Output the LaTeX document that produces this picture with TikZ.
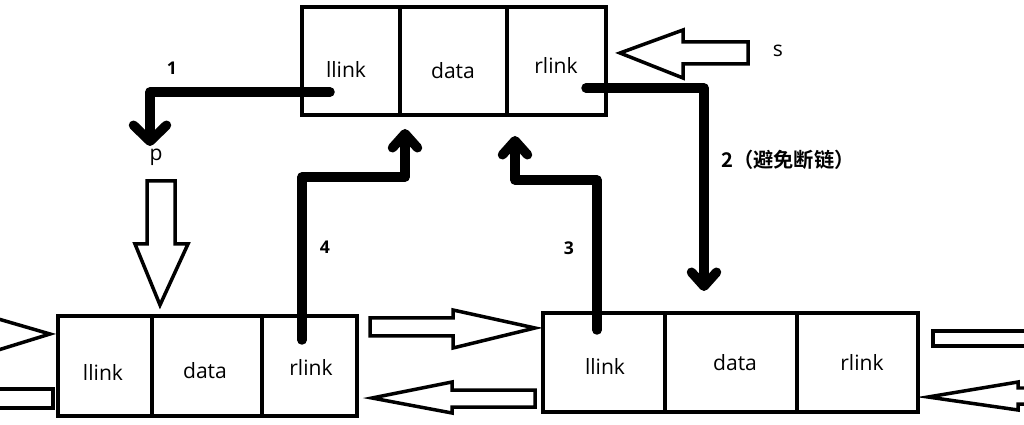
\documentclass[tikz,border=0pt]{standalone}
\usepackage{fontspec}
\setmainfont{Open Sans}
\newfontfamily\cjk{Noto Sans CJK SC}[BoldFont={Noto Sans CJK SC Bold}]
\usetikzlibrary{arrows.meta}
\begin{document}
\begin{tikzpicture}[x=0.02cm,y=-0.02cm,
  cell/.style={draw,line width=0.08cm,inner sep=0,outer sep=0},
  lbl/.style={font=\fontsize{12}{14}\selectfont,inner sep=0},
  num/.style={font=\fontsize{10}{12}\selectfont\bfseries,inner sep=0},
  link/.style={line width=0.19cm,line cap=round,line join=round,
    -{Straight Barb[length=0.28cm,width=0.5cm,line cap=round,line join=round]}},
  linkwide/.style={link,-{Straight Barb[length=0.32cm,width=0.66cm,line cap=round,line join=round]}},
  hollow/.style={draw,line width=0.07cm,line join=miter}]
\useasboundingbox (0,0) rectangle (1024,425);
\clip (0,0) rectangle (1024,425);

% top node
\node[cell,minimum width=1.96cm,minimum height=2.16cm] (tl) at (351,61) {};
\node[cell,minimum width=2.14cm,minimum height=2.16cm] (td) at (453.5,61) {};
\node[cell,minimum width=1.98cm,minimum height=2.16cm] (tr) at (556.5,61) {};
\node[lbl] (tlt) at (346,69) {llink};
\node[lbl] (tdt) at (453,71) {data};
\node[lbl] (trt) at (556,65) {rlink};

% bottom-left node
\node[cell,minimum width=1.88cm,minimum height=2cm] (bl1) at (105,366) {};
\node[cell,minimum width=2.2cm,minimum height=2cm] (bl2) at (207,366) {};
\node[cell,minimum width=1.9cm,minimum height=2cm] (bl3) at (309.5,366) {};
\node[lbl] (bl1t) at (103,372) {llink};
\node[lbl] (bl2t) at (205,371) {data};
\node[lbl] (bl3t) at (311,367) {rlink};

% bottom-right node
\node[cell,minimum width=2.44cm,minimum height=1.98cm] (br1) at (604,362.5) {};
\node[cell,minimum width=2.64cm,minimum height=1.98cm] (br2) at (731,362.5) {};
\node[cell,minimum width=2.42cm,minimum height=1.98cm] (br3) at (857.5,362.5) {};
\node[lbl] (br1t) at (605,366) {llink};
\node[lbl] (br2t) at (735,363) {data};
\node[lbl] (br3t) at (862,362) {rlink};

% texts
\node[lbl] (s) at (778,51) {s};
\node[lbl] (p) at (156,157) {p};
\node[num] (n1) at (172,68) {1};
\node[num] (n4) at (325,247) {4};
\node[num] (n3) at (569,248) {3};
\node[font=\cjk\fontsize{11.5}{13}\selectfont\bfseries,inner sep=0] (n2) at (788,160) {2（避免断链）};

% thick link arrows
\coordinate (a1s) at (330,92);
\coordinate (a1e) at (150,146);
\draw[linkwide] (a1s) -| (a1e);

\coordinate (a2s) at (586,88);
\coordinate (a2e) at (704,291);
\draw[link] (a2s) -| (a2e);

\coordinate (a3s) at (597,330);
\coordinate (a3m) at (515,180);
\coordinate (a3e) at (515,136);
\draw[link] (a3s) |- (a3m) -- (a3e);

\coordinate (a4s) at (302,340);
\coordinate (a4m) at (405,177);
\coordinate (a4e) at (405,129);
\draw[link] (a4s) |- (a4m) -- (a4e);

% hollow arrows
\draw[hollow] (748,42) -- (683,42) -- (683,30) -- (620,53) -- (683,78) -- (683,64) -- (748,64) -- cycle;
\draw[hollow] (147,181) -- (175,181) -- (175,244) -- (188,244) -- (160,305) -- (135,244) -- (147,244) -- cycle;
\draw[hollow] (370,318) -- (453,318) -- (453,310) -- (535,328) -- (453,348) -- (453,336) -- (370,336) -- cycle;
\draw[hollow] (535,390) -- (452,390) -- (452,382) -- (372,398) -- (452,413) -- (452,407) -- (535,407) -- cycle;
\draw[hollow] (-5,318) -- (50,334) -- (-5,351);
\draw[hollow] (-5,389) -- (53,389) -- (53,408) -- (-5,408);
\draw[hollow] (1030,331) -- (933,331) -- (933,346) -- (1030,346);
\draw[hollow] (1030,388) -- (1018,388) -- (1018,382) -- (928,397) -- (1018,410) -- (1018,404) -- (1030,404);
\end{tikzpicture}
\end{document}
